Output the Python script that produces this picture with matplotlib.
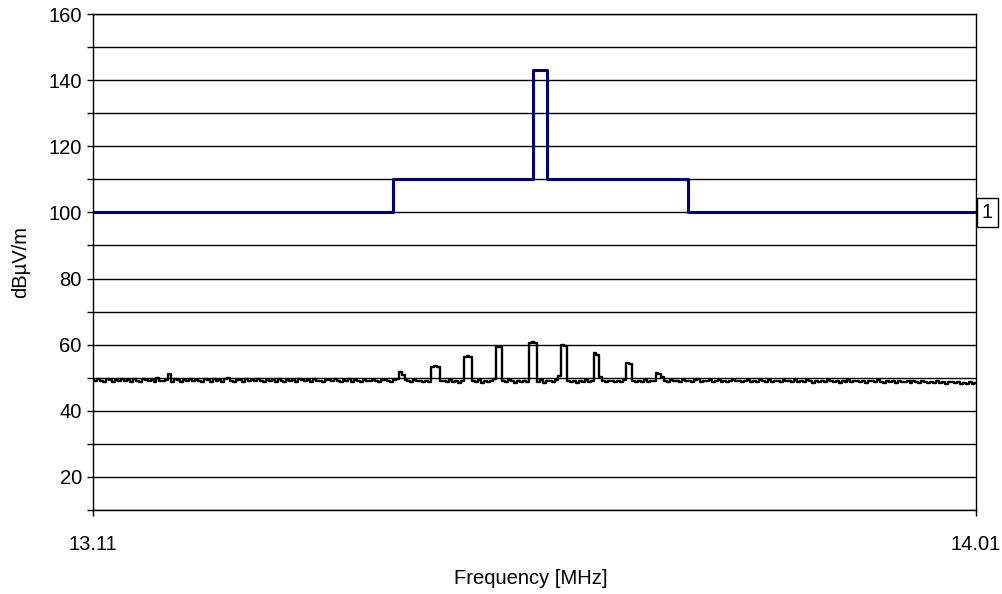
import numpy as np
import matplotlib.pyplot as plt
from matplotlib.ticker import MultipleLocator

plt.rcParams['font.family'] = ['Liberation Sans', 'DejaVu Sans']

# limit line (dBuV/m), step edges in MHz
limit_freq = [13.11, 13.416, 13.416, 13.559, 13.559, 13.573, 13.573, 13.716, 13.716, 14.01]
limit_level = [100, 100, 110, 110, 143, 143, 110, 110, 100, 100]

# measured trace, 300 sweep points from 13.11 to 14.01 MHz
f_start, f_stop = 13.11, 14.01
trace = [
    49.3, 48.9, 49.5, 49.1, 48.7, 49.6, 49.2, 48.8, 49.4, 49.0, 49.7, 48.9, 49.3, 48.6, 49.5, 49.1, 48.8, 49.6, 49.2, 49.0,
    49.4, 48.7, 49.8, 49.1, 48.9, 49.3, 51.0, 48.8, 49.5, 49.2, 48.6, 49.4, 49.0, 49.7, 48.9, 49.3, 49.1, 48.7, 49.5, 49.2,
    48.8, 49.6, 49.0, 49.3, 48.7, 49.5, 49.9, 49.1, 48.8, 49.4, 49.2, 48.6, 49.5, 49.0, 49.3, 48.9, 49.6, 49.1, 48.7, 49.4,
    49.0, 49.2, 48.8, 49.5, 49.1, 48.6, 49.3, 49.0, 49.4, 48.8, 49.6, 49.2, 48.9, 49.3, 48.7, 49.5, 49.1, 49.0, 48.8, 49.4,
    49.2, 48.9, 49.5, 49.0, 48.7, 49.3, 49.1, 49.6, 48.8, 49.2, 49.0, 48.6, 49.4, 49.1, 48.9, 49.3, 49.0, 48.7, 49.2, 49.4,
    49.0, 48.8, 49.3, 49.6, 51.6, 50.8, 49.4, 49.0, 48.7, 49.2, 48.9, 49.1, 48.6, 49.0, 48.8, 53.4, 53.5, 53.2, 49.1, 48.9,
    48.6, 49.2, 48.8, 49.0, 48.5, 49.1, 56.2, 56.6, 56.4, 48.9, 48.7, 49.2, 48.4, 49.0, 48.8, 49.1, 49.5, 59.3, 59.2, 48.9,
    48.7, 49.2, 48.9, 48.5, 49.1, 48.8, 49.0, 48.6, 60.6, 60.7, 60.5, 48.8, 49.2, 48.5, 49.0, 48.9, 48.6, 49.3, 50.5, 59.8,
    59.6, 48.9, 48.7, 49.1, 48.4, 49.0, 48.8, 49.2, 48.6, 49.0, 57.6, 57.0, 50.2, 49.0, 48.7, 48.9, 49.1, 48.6, 49.0, 48.8,
    49.2, 54.4, 54.2, 49.1, 48.7, 49.0, 48.8, 49.2, 48.6, 49.0, 48.9, 51.4, 51.0, 50.2, 49.1, 48.7, 49.3, 48.9, 49.1, 48.6,
    49.2, 48.9, 49.0, 48.7, 49.3, 49.6, 48.8, 49.1, 48.9, 49.2, 48.6, 49.0, 49.3, 48.8, 49.1, 48.7, 49.0, 49.4, 48.9, 49.1,
    48.6, 49.0, 49.2, 48.8, 49.1, 48.7, 49.3, 49.0, 48.8, 49.2, 48.6, 49.0, 49.1, 48.7, 49.3, 48.9, 49.0, 48.6, 49.2, 48.8,
    49.0, 48.7, 49.2, 48.9, 48.5, 49.1, 48.8, 49.0, 48.6, 49.2, 48.9, 48.7, 49.1, 48.5, 49.0, 48.8, 49.2, 48.6, 48.9, 49.0,
    48.7, 49.1, 48.5, 48.9, 49.0, 48.6, 49.2, 48.8, 48.4, 49.0, 48.7, 48.9, 48.5, 49.1, 48.8, 48.6, 49.0, 48.4, 48.9, 48.7,
    48.5, 48.9, 48.6, 48.3, 48.8, 48.5, 49.0, 48.4, 48.7, 48.2, 48.6, 48.8, 48.3, 48.6, 48.1, 48.5, 48.2, 48.7, 48.0, 48.3,
]
freq = np.linspace(f_start, f_stop, len(trace))

fig = plt.figure(figsize=(10.02, 5.94), dpi=100)
ax = fig.add_axes([0.0928, 0.1414, 0.8812, 0.835])

ax.yaxis.set_major_locator(MultipleLocator(20))
ax.yaxis.set_minor_locator(MultipleLocator(10))
ax.grid(True, which='both', axis='y', color='black', lw=1.0)
ax.set_axisbelow(True)

ax.plot(freq, trace, color='black', lw=1.7, drawstyle='steps-mid')
ax.plot(limit_freq, limit_level, color='#000080', lw=2.2)

ax.set_xlim(f_start, f_stop)
ax.set_ylim(10, 160)
ax.set_xticks([f_start, f_stop], ['13.11', '14.01'])
ax.set_yticks(range(20, 161, 20))
ax.tick_params(axis='both', which='both', direction='out', length=4, width=1, labelsize=14.5)
ax.tick_params(axis='x', pad=14)
ax.tick_params(axis='y', pad=4)
for s in ax.spines.values():
    s.set_linewidth(1.0)

ax.set_xlabel('Frequency [MHz]', fontsize=14.5, va='center')
ax.xaxis.set_label_coords(0.496, -0.139)
ax.set_ylabel('dBµV/m', fontsize=14.5, va='center')
ax.yaxis.set_label_coords(-0.0815, 0.5)

ax.annotate('1', xy=(1.0, (100 - 10) / 150), xycoords='axes fraction',
            xytext=(6, 0), textcoords='offset pixels', ha='left', va='center',
            fontsize=14.5,
            bbox=dict(boxstyle='square,pad=0.25', fc='white', ec='black', lw=1.0))

fig.savefig('out.png', dpi=100)
